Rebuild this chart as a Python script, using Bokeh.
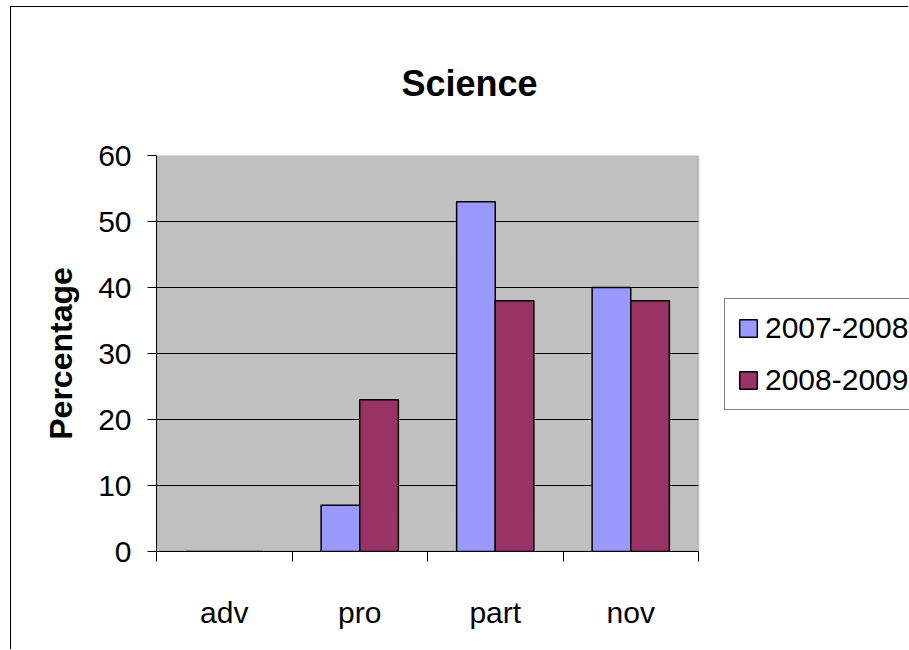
from bokeh.plotting import figure
from bokeh.models import (Range1d, FixedTicker, Legend, LegendItem,
                          BoxAnnotation, ColumnDataSource, Grid)
from bokeh.transform import dodge
from bokeh.embed import file_html
from bokeh.resources import INLINE

# ---- data ----
categories = ["adv", "pro", "part", "nov"]
series_names = ["2007-2008", "2008-2009"]
values_2007_2008 = [0, 7, 53, 40]
values_2008_2009 = [0, 23, 38, 38]
y_ticks = [0, 10, 20, 30, 40, 50, 60]
colors = ["#9999FF", "#993366"]
chart_title = "Science"
y_label = "Percentage"

FONT = "Liberation Sans"

# ---- layout constants (pixels) ----
W, H = 898, 643
LEFT, BOTTOM, TOP = 145, 99, 148
PLOT_W = 542                      # width of the grey plot area
FRAME_W = W - LEFT                # frame runs to the right edge (room for legend)

n = len(categories)
src = ColumnDataSource(dict(cat=categories,
                            pos=[i + 0.5 for i in range(n)],
                            a=values_2007_2008, b=values_2008_2009))

p = figure(width=W, height=H, title=chart_title,
           x_range=Range1d(0, n * FRAME_W / PLOT_W),
           y_range=Range1d(y_ticks[0], y_ticks[-1]),
           output_backend="svg", toolbar_location=None,
           min_border_left=LEFT, min_border_right=0,
           min_border_top=TOP, min_border_bottom=BOTTOM)
# chart-area border (left and top edges visible in the reference)
p.margin = (6, 0, 0, 10)
p.styles = {"border-left": "1px solid black", "border-top": "1px solid black"}

p.background_fill_color = "white"
p.border_fill_color = "white"
p.outline_line_color = None

# grey plot area with grey border
p.add_layout(BoxAnnotation(left=0, right=n, bottom=y_ticks[0], top=y_ticks[-1],
                           fill_color="#C0C0C0", fill_alpha=1,
                           line_color="#808080", line_width=2, level="image"))

p.xgrid.visible = False
yg = p.ygrid[0]
yg.grid_line_color = "black"
yg.grid_line_width = 1
yg.ticker = FixedTicker(ticks=y_ticks[1:-1])
if "cross_bounds" in Grid.properties():
    yg.cross_bounds = (0, n)

bw = 0.285
r1 = p.vbar(x=dodge("pos", -bw / 2), top="a", width=bw, source=src,
            fill_color=colors[0], line_color="black", line_width=1.5)
r2 = p.vbar(x=dodge("pos", bw / 2), top="b", width=bw, source=src,
            fill_color=colors[1], line_color="black", line_width=1.5)

# y axis
ya = p.yaxis[0]
ya.ticker = FixedTicker(ticks=y_ticks)
ya.major_tick_out = 9
ya.major_tick_in = 0
ya.minor_tick_line_color = None
ya.axis_line_color = "black"
ya.major_tick_line_color = "black"
ya.major_label_text_font = FONT
ya.major_label_text_font_size = "30px"
ya.major_label_text_color = "black"
ya.major_label_standoff = 16
ya.axis_label = y_label
ya.axis_label_text_font = FONT
ya.axis_label_text_font_size = "32px"
ya.axis_label_text_font_style = "bold"
ya.axis_label_text_color = "black"
ya.axis_label_standoff = 16

# x axis: labels at category centers, ticks at category boundaries
xa = p.xaxis[0]
xa.ticker = FixedTicker(ticks=[i + 0.5 for i in range(n)], minor_ticks=list(range(n + 1)))
xa.major_label_overrides = {i + 0.5: c for i, c in enumerate(categories)}
xa.bounds = (0, n)
xa.major_tick_line_color = None
xa.minor_tick_line_color = "black"
xa.minor_tick_out = 10
xa.minor_tick_in = 0
xa.axis_line_color = "black"
xa.major_label_text_font = FONT
xa.major_label_text_font_size = "30px"
xa.major_label_text_color = "black"
xa.major_label_standoff = 34

# title
p.title.text_font = FONT
p.title.text_font_size = "36px"
p.title.text_font_style = "bold"
p.title.text_color = "black"
p.title.align = "left"
p.title.offset = 245
p.title.standoff = 104

# legend, right of the plot area
legend = Legend(items=[LegendItem(label=series_names[0], renderers=[r1]),
                       LegendItem(label=series_names[1], renderers=[r2])],
                location=(PLOT_W + 26, 141), margin=0, padding=12,
                glyph_width=22, glyph_height=22, label_standoff=6, spacing=18,
                label_text_font=FONT, label_text_font_size="30px",
                label_text_color="black",
                border_line_color="black", border_line_width=1,
                background_fill_color="white", background_fill_alpha=1)
p.add_layout(legend)

open("out.html", "w").write(file_html(p, INLINE))
